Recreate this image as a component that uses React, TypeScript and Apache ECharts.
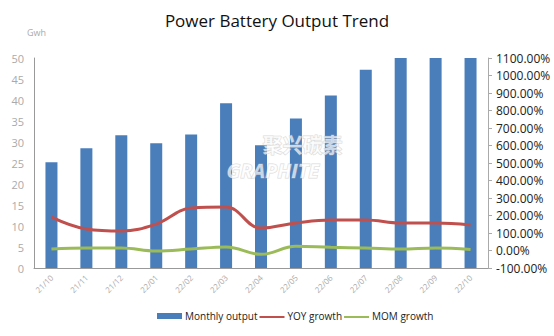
import React, { useEffect, useRef } from "react";
import * as echarts from "echarts";

const categories = ["21/10", "21/11", "21/12", "22/01", "22/02", "22/03", "22/04", "22/05", "22/06", "22/07", "22/08", "22/09", "22/10"];
const monthlyOutput = [25.2, 28.5, 31.6, 29.7, 31.8, 39.2, 29.2, 35.6, 41.1, 47.2, 52.6, 57.2, 59.1];
const yoyGrowth = [191, 123, 111, 151, 243, 248, 128, 157, 174, 174, 157, 157, 146];
const momGrowth = [8, 14, 14, -3, 8, 20, -22, 24, 18, 14, 8, 14, 6];

const lineIcon = "path://M0,0L25,0L25,0.01Z M0,2L25,2L25,4L0,4Z";

export default function App() {
  const ref = useRef<HTMLDivElement>(null);
  useEffect(() => {
    if (!ref.current) return;
    const chart = echarts.init(ref.current, null, { renderer: "svg" });
    const font = "'Open Sans', 'Noto Sans', sans-serif";
    chart.setOption({
      animation: false,
      backgroundColor: "#ffffff",
      textStyle: { fontFamily: font },
      title: {
        text: "Power Battery Output Trend",
        left: "center",
        top: 7,
        textStyle: { fontSize: 17, fontWeight: "normal", color: "#111", fontFamily: font },
      },
      graphic: [
        { type: "text", left: 27, top: 28, style: { text: "Gwh", fontSize: 9, fill: "#aaa", fontFamily: font } },
        {
          type: "text",
          left: 226,
          top: 160,
          z: 100,
          style: { text: "GRAPHITE", fontSize: 20, fontWeight: "bold", fontStyle: "italic", fill: "rgba(255,255,255,0.7)", stroke: "rgba(180,180,180,0.5)", lineWidth: 1, fontFamily: font },
        },
        {
          type: "text",
          left: 262,
          top: 134,
          z: 100,
          style: { text: "聚兴碳素", fontSize: 20, fontWeight: "bold", fill: "rgba(255,255,255,0.7)", stroke: "rgba(180,180,180,0.5)", lineWidth: 1, fontFamily: "'Noto Sans CJK SC', sans-serif" },
        },
      ],
      grid: { left: 34, right: 66, top: 58, bottom: 68, containLabel: false },
      legend: {
        bottom: 10,
        left: 152,
        itemGap: 2,
        itemWidth: 25,
        itemHeight: 6,
        textStyle: { fontSize: 10, color: "#222", fontFamily: font, padding: [0, 0, 0, -2] },
        data: [
          { name: "Monthly output", icon: "rect" },
          { name: "YOY growth", icon: lineIcon },
          { name: "MOM growth", icon: lineIcon },
        ],
      },
      xAxis: {
        type: "category",
        data: categories,
        axisLine: { lineStyle: { color: "#999" } },
        axisTick: { show: false },
        axisLabel: { rotate: 45, fontSize: 8, color: "#aaa", margin: 8 },
      },
      yAxis: [
        {
          type: "value",
          min: 0,
          max: 50,
          interval: 5,
          splitLine: { show: false },
          axisLine: { show: true, lineStyle: { color: "#999" } },
          axisTick: { show: false },
          axisLabel: { fontSize: 11, color: "#aaa", margin: 10 },
        },
        {
          type: "value",
          min: -100,
          max: 1100,
          interval: 100,
          position: "right",
          splitLine: { show: false },
          axisLine: { show: true, lineStyle: { color: "#aaa" } },
          axisTick: { show: true, length: 4, lineStyle: { color: "#aaa" } },
          axisLabel: { fontSize: 12, color: "#222", margin: 8, formatter: (v: number) => v.toFixed(2) + "%" },
        },
      ],
      series: [
        {
          name: "Monthly output",
          type: "bar",
          data: monthlyOutput,
          barWidth: 12,
          clip: true,
          itemStyle: { color: "#4a7ebb" },
        },
        {
          name: "YOY growth",
          type: "line",
          yAxisIndex: 1,
          data: yoyGrowth,
          smooth: 0.4,
          symbol: "none",
          lineStyle: { color: "#c0504d", width: 3 },
          itemStyle: { color: "#c0504d" },
        },
        {
          name: "MOM growth",
          type: "line",
          yAxisIndex: 1,
          data: momGrowth,
          smooth: 0.4,
          symbol: "none",
          lineStyle: { color: "#9bbb59", width: 3 },
          itemStyle: { color: "#9bbb59" },
        },
      ],
    });
    return () => chart.dispose();
  }, []);
  return <div ref={ref} style={{ width: 554, height: 336, position: "absolute", left: 0, top: 0 }} />;
}
